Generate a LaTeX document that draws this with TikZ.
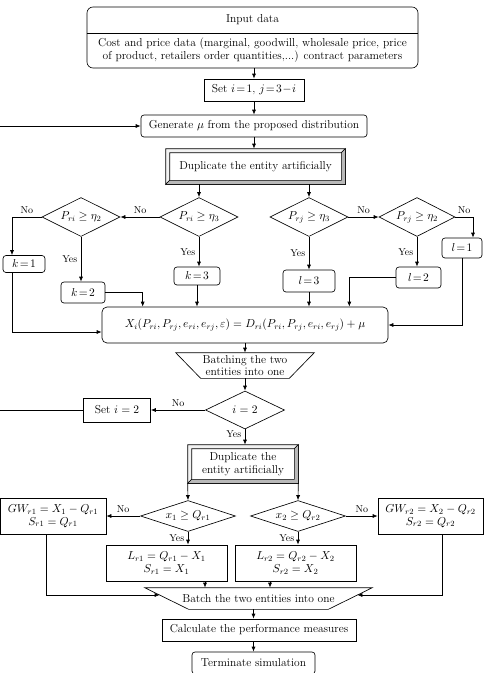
\RequirePackage{fix-cm}
\documentclass[tikz,border=0pt]{standalone}
\usetikzlibrary{shapes.geometric,arrows.meta}
\newcommand\bevel[1]{%
	\draw[fill=gray!10](#1.north west)--(#1.north east)--([shift={(-4pt,-4pt)}]#1.north east)--([shift={(4pt,-4pt)}]#1.north west)--([shift={(4pt,4pt)}]#1.south west)--(#1.south west)--cycle;
	\draw[fill=gray!55](#1.south east)--(#1.north east)--([shift={(-4pt,-4pt)}]#1.north east)--([shift={(-4pt,4pt)}]#1.south east)--([shift={(4pt,4pt)}]#1.south west)--(#1.south west)--cycle;}
\newcommand\trap[2]{\draw(#1.north west)--(#1.north east)--([xshift=-#2]#1.south east)--([xshift=#2]#1.south west)--cycle;}
\begin{document}
\begin{tikzpicture}[x=1pt,y=-1pt,>={Latex[length=5pt,width=4pt]},line width=.65pt,
	font=\fontsize{11.5}{12.5}\selectfont,
	box/.style={draw,rectangle,inner sep=2pt,align=center},
	rbox/.style={box,rounded corners=3pt},
	dec/.style={draw,diamond,aspect=2,inner sep=0pt},
	dupbox/.style={draw,rectangle,align=center},
	batch/.style={rectangle,inner sep=0pt,align=center},
	lab/.style={font=\fontsize{10}{12}\selectfont}]
	\useasboundingbox(0,0)rectangle(487,673);
	\node[rbox,rounded corners=6pt,minimum width=331pt,minimum height=61pt](inp)at(252.5,37.5){};
	\node(inptit)at(252.5,20){Input data};
	\node[align=center,inner sep=0pt](inpbody)at(252.5,50){Cost and price data (marginal, goodwill, wholesale price, price\\of product, retailers order quantities,...) contract parameters};
	\draw(inp.west|-0,33)--(inp.east|-0,33);
	\node[box,minimum width=100pt,minimum height=22pt](set1)at(254,90){Set $i\!=\!1$, $j\!=\!3\!-\!i$};
	\node[rbox,minimum width=226pt,minimum height=22pt](gen)at(254,126){Generate $\mu$ from the proposed distribution};
	\node[dupbox,minimum width=179pt,minimum height=35pt](dup1)at(255.5,166.5){Duplicate the entity artificially};
	\bevel{dup1}
	\node[dec,minimum width=78pt,minimum height=39pt](d1)at(81,217){$P_{ri}\ge\eta_2$};
	\node[dec,minimum width=78pt,minimum height=39pt](d2)at(199,217){$P_{ri}\ge\eta_3$};
	\node[dec,minimum width=78pt,minimum height=39pt](d3)at(309,217){$P_{rj}\ge\eta_3$};
	\node[dec,minimum width=76pt,minimum height=39pt](d4)at(417,217){$P_{rj}\ge\eta_2$};
	\node[rbox,minimum width=42pt,minimum height=17pt](k1)at(24,264){$k\!=\!1$};
	\node[rbox,minimum width=44pt,minimum height=21pt](k2)at(83,292.5){$k\!=\!2$};
	\node[rbox,minimum width=46pt,minimum height=18pt](k3)at(197,276){$k\!=\!3$};
	\node[rbox,minimum width=52pt,minimum height=22pt](l3)at(309,281){$l\!=\!3$};
	\node[rbox,minimum width=45pt,minimum height=21pt](l2)at(418.5,277.5){$l\!=\!2$};
	\node[rbox,minimum width=40pt,minimum height=20pt](l1)at(462,248){$l\!=\!1$};
	\node[rbox,rounded corners=5pt,minimum width=286pt,minimum height=36pt](X)at(245,325){$X_i(P_{ri},P_{rj},e_{ri},e_{rj},\varepsilon)=D_{ri}(P_{ri},P_{rj},e_{ri},e_{rj})+\mu$};
	\node[batch,minimum width=138pt,minimum height=25pt](bat1)at(245,365.5){Batching the two\\entities into one};
	\trap{bat1}{25pt}
	\node[dec,minimum width=79pt,minimum height=38pt](i2)at(245,410){$i=2$};
	\node[box,minimum width=67pt,minimum height=24pt](set2)at(117,410){Set $i=2$};
	\coordinate(loop)at(-2,0);
	\node[dupbox,minimum width=110pt,minimum height=38pt](dup2)at(243,464){Duplicate the\\entity artificially};
	\bevel{dup2}
	\node[dec,aspect=3,minimum width=95pt,minimum height=31pt](d5)at(188,516){$x_1\ge Q_{r1}$};
	\node[dec,aspect=3,minimum width=95pt,minimum height=31pt](d6)at(298,516){$x_2\ge Q_{r2}$};
	\node[box,minimum width=106pt,minimum height=36pt](gw1)at(53,516){$GW_{r1}=X_1-Q_{r1}$\\$S_{r1}=Q_{r1}$};
	\node[box,minimum width=105pt,minimum height=36pt](gw2)at(430.5,516){$GW_{r2}=X_2-Q_{r2}$\\$S_{r2}=Q_{r2}$};
	\node[box,minimum width=121pt,minimum height=36pt](lr1)at(166.5,563){$L_{r1}=Q_{r1}-X_1$\\$S_{r1}=X_1$};
	\node[box,minimum width=121pt,minimum height=36pt](lr2)at(295.5,563){$L_{r2}=Q_{r2}-X_2$\\$S_{r2}=X_2$};
	\node[batch,minimum width=227pt,minimum height=21pt](bat2)at(258.5,598.5){Batch the two entities into one};
	\trap{bat2}{44pt}
	\node[box,minimum width=194pt,minimum height=22pt](calc)at(259,630){Calculate the performance measures};
	\node[rbox,minimum width=123pt,minimum height=22pt](term)at(253.5,663){Terminate simulation};
	\draw[->](inp.south-|set1.north)--(set1.north);
	\draw[->](set1)--(gen);
	\draw[->](gen.south)--(gen.south|-dup1.north);
	\draw[->](dup1.south-|d2.north)--(d2.north);
	\draw[->](dup1.south-|d3.north)--(d3.north);
	\draw[->](d2)--node[lab,above]{No}(d1);
	\draw[->](d1.west)-|node[lab,pos=.25,above]{No}([xshift=-12pt]k1.north);
	\draw[->](d1.south)--node[lab,left]{Yes}(d1.south|-k2.north);
	\draw[->](d2.south)--node[lab,left]{Yes}(d2.south|-k3.north);
	\draw[->](d3)--node[lab,above]{No}(d4);
	\draw[->](d3.south)--node[lab,left]{Yes}(d3.south|-l3.north);
	\draw[->](d4.south)--node[lab,left]{Yes}(d4.south|-l2.north);
	\draw[->](d4.east)-|node[lab,pos=.25,above]{No}([xshift=11pt]l1.north);
	\draw[->]([xshift=-12pt]k1.south)|-([yshift=-7pt]X.west);
	\draw[->](k2.east)-|([xshift=41pt]X.north west);
	\draw[->](k3.south)--(k3.south|-X.north);
	\draw[->](l3.south)--(l3.south|-X.north);
	\draw[->](l2.west)-|([xshift=-39pt]X.north east);
	\draw[->](l1.south)|-(X.east);
	\draw[->](X.south)--(bat1.north);
	\draw[->](bat1.south)--(i2.north);
	\draw[->](i2.west)--node[lab,above]{No}(set2.east);
	\draw[->](set2.west)--(set2.west-|loop)|-(gen.west);
	\draw[->](i2.south)--node[lab,pos=.3,left]{Yes}(i2.south|-dup2.north);
	\draw[->](dup2.south west)--(d5.north);
	\draw[->](dup2.south east)--(d6.north);
	\draw[->](d5)--node[lab,above]{No}(gw1);
	\draw[->](d6)--node[lab,above]{No}(gw2);
	\draw[->](d5.south)--node[lab,left]{Yes}(d5.south|-lr1.north);
	\draw[->](d6.south)--node[lab,left]{Yes}(d6.south|-lr2.north);
	\draw[->]([xshift=38.5pt]lr1.south)--([xshift=38.5pt]lr1.south|-bat2.north);
	\draw[->]([xshift=-25.5pt]lr2.south)--([xshift=-25.5pt]lr2.south|-bat2.north);
	\draw[->]([xshift=-7pt]gw1.south)|-([shift={(15pt,3.5pt)}]bat2.west);
	\draw[->]([xshift=11.5pt]gw2.south)|-([shift={(-15pt,3.5pt)}]bat2.east);
	\draw[->](bat2.south-|term.north)--(calc.north-|term.north);
	\draw[->](calc.south-|term.north)--(term.north);
\end{tikzpicture}
\end{document}
